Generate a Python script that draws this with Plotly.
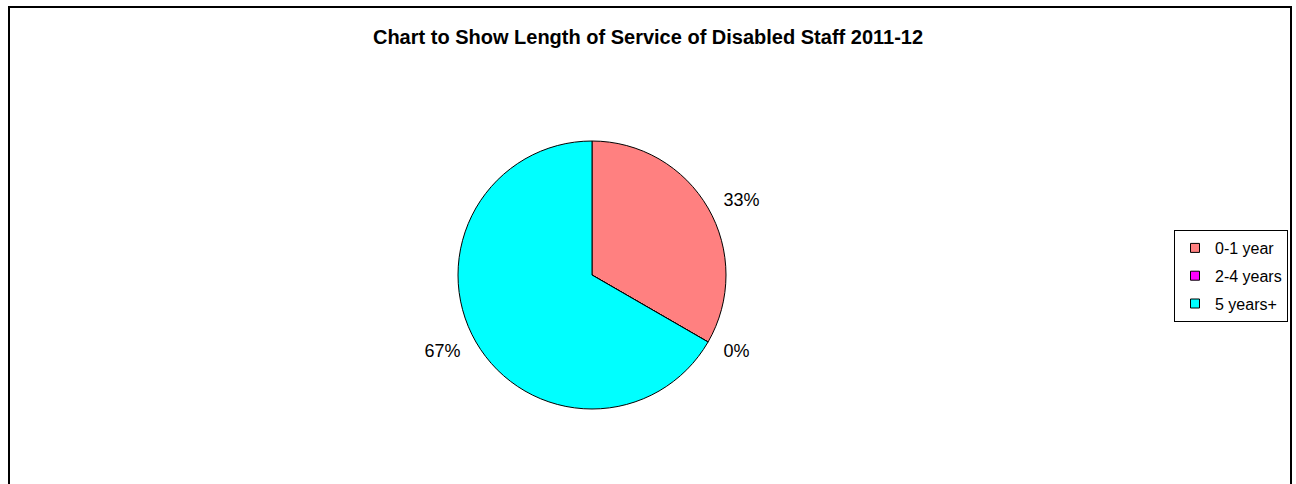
import plotly.graph_objects as go

categories = ["0-1 year", "2-4 years", "5 years+"]
values = [1, 0, 2]
colors = ["#FF8080", "#FF00FF", "#00FFFF"]
title = "Chart to Show Length of Service of Disabled Staff 2011-12"

W, H = 1296, 484
fig = go.Figure()

cx, cy, r, rl = 592, 275, 134, 146


def dom(rad):
    return dict(x=[(cx - rad) / W, (cx + rad) / W],
                y=[1 - (cy + rad) / H, 1 - (cy - rad) / H])


# transparent, slightly larger pie that only carries the outside percentage labels
fig.add_trace(go.Pie(
    labels=categories, values=values, sort=False, direction="clockwise", rotation=0,
    marker=dict(colors=["rgba(0,0,0,0)"] * 3, line=dict(width=0)),
    textinfo="percent", textposition="outside", texttemplate="%{percent:.0%}",
    textfont=dict(family="Arial", size=18, color="black"),
    showlegend=False, hoverinfo="skip", domain=dom(rl),
))

fig.add_trace(go.Pie(
    labels=categories, values=values, sort=False, direction="clockwise", rotation=0,
    marker=dict(colors=colors, line=dict(color="black", width=1)),
    textinfo="none", showlegend=False, hoverinfo="label+percent", domain=dom(r),
))

for cat, col in zip(categories, colors):
    fig.add_trace(go.Scatter(
        x=[None], y=[None], mode="markers", name=cat, legendgroup=cat,
        marker=dict(symbol="square", size=9, color=col, line=dict(color="black", width=1)),
    ))

fig.update_layout(
    width=W, height=H, margin=dict(l=0, r=0, t=0, b=0),
    paper_bgcolor="white", plot_bgcolor="white",
    xaxis=dict(visible=False), yaxis=dict(visible=False),
    title=dict(text="<b>" + title + "</b>", x=0.5, xanchor="center", y=1 - 37 / H, yanchor="middle",
               font=dict(family="Arial", size=20, color="black")),
    legend=dict(x=1174 / W, y=1 - 230 / H, xanchor="left", yanchor="top",
                bordercolor="black", borderwidth=1, bgcolor="white",
                font=dict(family="Arial", size=16, color="black"),
                tracegroupgap=4, itemclick=False),
    shapes=[dict(type="rect", xref="paper", yref="paper", x0=9 / W, x1=1291 / W,
                 y0=-0.1, y1=1 - 7 / H, line=dict(color="black", width=2))],
)

fig.write_html("out.html", config={"displayModeBar": False},
               post_script="document.body.style.margin='0';")
